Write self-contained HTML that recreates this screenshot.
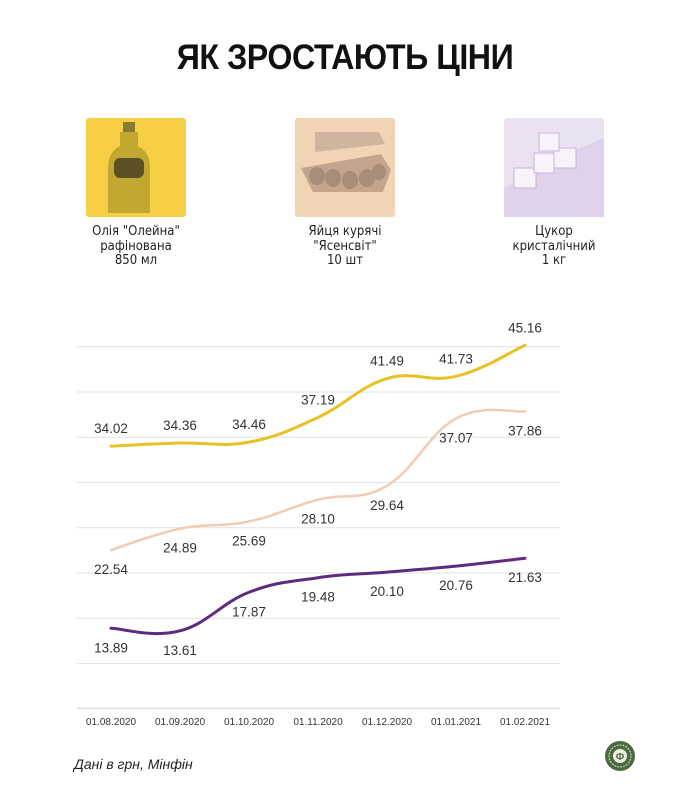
<!DOCTYPE html>
<html><head><meta charset="utf-8"><style>
body{margin:0;background:#fff;font-family:"Liberation Sans","DejaVu Sans",sans-serif;}
#wrap{position:relative;width:690px;height:800px;overflow:hidden;background:#fff}
.title{position:absolute;top:38px;left:0;width:690px;text-align:center;font-weight:bold;font-size:35px;color:#111;letter-spacing:-0.5px;transform:scaleX(0.92)}
.img{position:absolute;top:118px;width:100px;height:99px;border-radius:3px}
.cap{position:absolute;top:225px;width:160px;text-align:center;font-size:13px;line-height:14.5px;color:#222;font-family:"DejaVu Sans Condensed","DejaVu Sans",sans-serif}
.foot{position:absolute;left:74px;top:756px;font-size:14px;font-style:italic;color:#222}
</style></head><body>
<div id="wrap">
<div class="title">ЯК ЗРОСТАЮТЬ ЦІНИ</div>
<div class="img" style="left:86px;background:#f7cf45">
<svg width="100" height="99"><rect x="37" y="4" width="12" height="10" fill="#8a7a30"/><path d="M34 14h18v14q12 6 12 22v45h-42v-45q0-16 12-22z" fill="#b49c2a" opacity=".8"/><rect x="28" y="40" width="30" height="20" rx="6" fill="#5a5225"/></svg></div>
<div class="img" style="left:295px;background:#f1d3b6">
<svg width="100" height="99"><path d="M20 14h64l6 12-70 8z" fill="#d0b59e"/><path d="M6 50l80-14 10 16-8 22h-70z" fill="#c3a58d"/><g fill="#a88d78"><ellipse cx="22" cy="58" rx="8" ry="9"/><ellipse cx="38" cy="60" rx="8" ry="9"/><ellipse cx="55" cy="62" rx="8" ry="9"/><ellipse cx="72" cy="60" rx="8" ry="9"/><ellipse cx="84" cy="54" rx="7" ry="8"/></g></svg></div>
<div class="img" style="left:504px;background:#ebe2f1">
<svg width="100" height="99"><path d="M0 70q50-30 100-50v79h-100z" fill="#e0d2ea"/><g fill="#f8f3fb" stroke="#c9b3da"><rect x="10" y="50" width="22" height="20"/><rect x="30" y="35" width="20" height="20"/><rect x="50" y="30" width="22" height="20"/><rect x="35" y="15" width="20" height="18"/></g></svg></div>
<div class="cap" style="left:56px">Олія "Олейна"<br>рафінована<br>850 мл</div>
<div class="cap" style="left:265px">Яйця курячі<br>"Ясенсвіт"<br>10 шт</div>
<div class="cap" style="left:474px">Цукор<br>кристалічний<br>1 кг</div>
<svg id="chart" width="690" height="800" style="position:absolute;left:0;top:0"></svg>
<div class="foot">Дані в грн, Мінфін</div>
<svg style="position:absolute;left:604px;top:740px" width="32" height="32"><circle cx="16" cy="16" r="15" fill="#4d6a3f"/><circle cx="16" cy="16" r="11" fill="none" stroke="#d9e0cf" stroke-width="1" stroke-dasharray="2 1"/><circle cx="16" cy="16" r="7" fill="#e9eee2"/><text x="16" y="20" text-anchor="middle" font-size="10" font-weight="bold" fill="#4d6a3f" font-family="Liberation Sans">Ф</text></svg>
</div>
<script>
const categories=["01.08.2020","01.09.2020","01.10.2020","01.11.2020","01.12.2020","01.01.2021","01.02.2021"];
const oilValues=[34.02,34.36,34.46,37.19,41.49,41.73,45.16];
const eggValues=[22.54,24.89,25.69,28.10,29.64,37.07,37.86];
const sugarValues=[13.89,13.61,17.87,19.48,20.10,20.76,21.63];
const gridValues=[5,10,15,20,25,30,35,40,45];
const NS="http://www.w3.org/2000/svg";
const svg=document.getElementById('chart');
const xScale=i=>111+i*69;
const yScale=v=>754-v*9.05;
function mk(t,a){const e=document.createElementNS(NS,t);for(const k in a)e.setAttribute(k,a[k]);svg.appendChild(e);return e;}
gridValues.forEach(v=>{
 const l=mk('line',{x1:77,x2:560,y1:yScale(v),y2:yScale(v),stroke:'#e2e2e2','stroke-width':1});
 
 
});
const ax=mk('line',{x1:77,x2:560,y1:yScale(0)-46+46*0+0,y2:yScale(0)-46,stroke:'#e2e2e2'});


categories.forEach((c,i)=>{
 const t=mk('text',{x:xScale(i),y:725,'text-anchor':'middle','font-size':10,fill:'#333'});
 t.textContent=c;
 
 
});
function path(vals){
 const p=vals.map((v,i)=>[xScale(i),yScale(v)]);
 let d=`M${p[0][0]},${p[0][1]}`;
 for(let i=0;i<p.length-1;i++){
  const p0=p[i-1]||p[i],p1=p[i],p2=p[i+1],p3=p[i+2]||p2;
  const t=0.2;
  d+=` C${p1[0]+(p2[0]-p0[0])*t},${p1[1]+(p2[1]-p0[1])*t} ${p2[0]-(p3[0]-p1[0])*t},${p2[1]-(p3[1]-p1[1])*t} ${p2[0]},${p2[1]}`;
 }
 return d;
}
function series(vals,color,w,off,name){
 const pth=mk('path',{d:path(vals),fill:'none',stroke:color,'stroke-width':w,'stroke-linecap':'round'});
 
 
 vals.forEach((v,i)=>{
  const t=mk('text',{x:xScale(i),y:yScale(v)+off,'text-anchor':'middle','font-size':13.5,fill:'#333'});
  t.textContent=v.toFixed(2);
  
  
 });
}
series(eggValues,'#f0cdb2',2.5,24,'eggs');
series(oilValues,'#e8c125',3,-13,'oil');
series(sugarValues,'#5e2b80',3,24,'sugar');
</script>
</body></html>
